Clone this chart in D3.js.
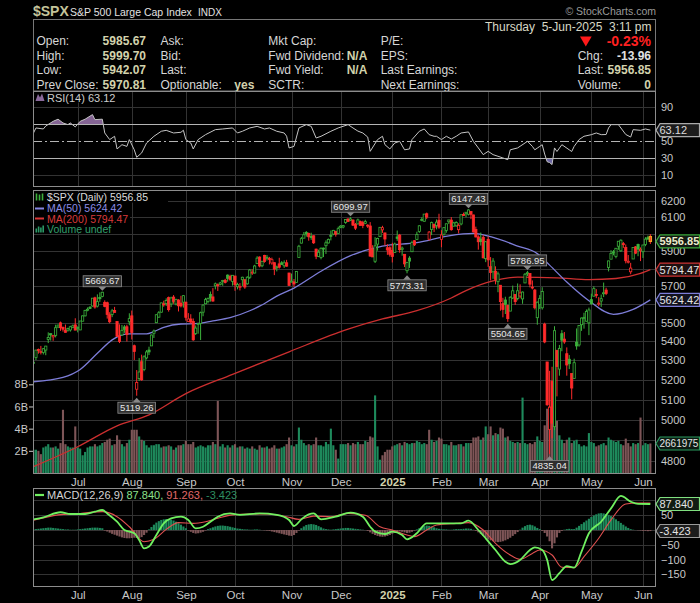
<!DOCTYPE html>
<html>
<head>
<meta charset="utf-8">
<script src="https://cdn.jsdelivr.net/npm/d3@7/dist/d3.min.js"></script>
<style>
html,body{margin:0;padding:0;background:#000;overflow:hidden;}
svg{display:block;}
svg text{font-family:"Liberation Sans",Arial,Helvetica,sans-serif;}
</style>
</head>
<body>
<svg id="chart" width="700" height="603"></svg>
<script>
// ================= DATA =================
// trading days (month, day numbers)
const monthDays = [
 ["2024-06","4 5 6 7 10 11 12 13 14 17 18 20 21 24 25 26 27 28"],
 ["2024-07","1 2 3 5 8 9 10 11 12 15 16 17 18 19 22 23 24 25 26 29 30 31"],
 ["2024-08","1 2 5 6 7 8 9 12 13 14 15 16 19 20 21 22 23 26 27 28 29 30"],
 ["2024-09","3 4 5 6 9 10 11 12 13 16 17 18 19 20 23 24 25 26 27 30"],
 ["2024-10","1 2 3 4 7 8 9 10 11 14 15 16 17 18 21 22 23 24 25 28 29 30 31"],
 ["2024-11","1 4 5 6 7 8 11 12 13 14 15 18 19 20 21 22 25 26 27 29"],
 ["2024-12","2 3 4 5 6 9 10 11 12 13 16 17 18 19 20 23 24 26 27 30 31"],
 ["2025-01","2 3 6 7 8 10 13 14 15 16 17 21 22 23 24 27 28 29 30 31"],
 ["2025-02","3 4 5 6 7 10 11 12 13 14 18 19 20 21 24 25 26 27 28"],
 ["2025-03","3 4 5 6 7 10 11 12 13 14 17 18 19 20 21 24 25 26 27 28 31"],
 ["2025-04","1 2 3 4 7 8 9 10 11 14 15 16 17 21 22 23 24 25 28 29 30"],
 ["2025-05","1 2 5 6 7 8 9 12 13 14 15 16 19 20 21 22 23 27 28 29 30"],
 ["2025-06","2 3 4 5"]
];
const open = [
 5284,5315,5357,5343,5341,5354,5410,5441,5424,5432,5477,5499,5475,5460,5460,5461,5473,5488,
 5471,5461,5508,5537,5572,5584,5591,5636,5590,5638,5644,5611,5609,5543,5545,5566,5506,5429,5434,5477,5478,5505,
 5537,5377,5152,5206,5293,5253,5313,5354,5376,5443,5500,5530,5557,5603,5604,5637,5602,5640,5602,5624,5607,5612,
 5612,5506,5520,5507,5442,5490,5496,5557,5603,5616,5655,5641,5703,5709,5711,5728,5734,5763,5755,5727,
 5758,5698,5698,5737,5737,5714,5751,5778,5775,5829,5866,5816,5876,5860,5858,5832,5834,5810,5827,5833,5816,5833,5775,
 5723,5725,5722,5864,5947,5976,6009,6003,5986,5990,5912,5870,5864,5918,5932,5948,5993,6000,6015,6003,
 6040,6042,6069,6090,6082,6083,6058,6060,6074,6068,6064,6053,6048,5912,5842,5941,5985,6025,6007,5920,5920,
 5904,5892,5983,5994,5911,5882,5788,5860,5897,5961,5969,6015,6081,6076,6121,5970,6027,6058,6050,6082,
 5969,5999,6021,6073,6083,6047,6049,6026,6060,6116,6121,6118,6134,6114,6027,5983,5971,5981,5857,
 5969,5811,5782,5785,5726,5706,5604,5624,5594,5563,5635,5654,5632,5646,5630,5719,5775,5772,5696,5679,5527,
 5598,5581,5492,5292,4953,5193,4966,5353,5255,5441,5412,5335,5306,5232,5207,5395,5381,5489,5529,5508,5499,
 5626,5645,5655,5605,5618,5663,5679,5807,5854,5896,5869,5929,5902,5944,5921,5842,5782,5855,5925,5939,5903,
 5897,5939,5979,5985.67
];
const high = [
 5300,5355,5362,5376,5365,5376,5448,5442,5433,5489,5490,5506,5479,5490,5473,5483,5490,5524,
 5480,5510,5539,5570,5583,5590,5635,5642,5655,5666,5669.67,5622,5615,5557,5575,5586,5509,5491,5488,5487,5489,5551,
 5566,5383,5250,5312,5330,5327,5354,5372,5436,5463,5545,5563,5609,5620,5633,5643,5642,5651,5631,5628,5647,5651,
 5614,5552,5546,5523,5485,5497,5560,5600,5636,5637,5671,5690,5721,5716,5725,5736,5742,5767,5765,5763,
 5758,5720,5718,5754,5739,5757,5797,5796,5822,5871,5870,5843,5879,5878,5867,5863,5835,5817,5862,5843,5847,5850,5776,
 5772,5741,5784,5937,5983,6012,6018,6009,6008,5993,5915,5909,5922,5921,5963,5974,6021,6025,6020,6044,
 6053,6053,6089,6092,6099.97,6088,6066,6092,6080,6079,6085,6058,6071,5935,5982,5979,6040,6049,6007,5941,5929,
 5949,5950,6021,6001,5927,5882,5837,5871,5961,5965,6014,6052,6100,6119,6128,6018,6074,6062,6087,6121,
 6023,6042,6062,6084,6101,6073,6076,6064,6117,6128,6130,6147.43,6135,6115,6044,5993,6009,5994,5959,
 5987,5866,5860,5813,5783,5706,5636,5642,5598,5645,5704,5655,5716,5711,5671,5775,5786.95,5772,5733,5685,5615,
 5651,5695,5500,5292,5246,5267,5481,5353,5381,5460,5450,5368,5328,5232,5309,5469,5485,5528,5554,5572,5582,
 5659,5700,5684,5640,5654,5721,5692,5845,5906,5907,5918,5958,5969,5954,5939,5878,5833,5922,5930,5944,5922,
 5937,5982,5991,5999.70
];
const low = [
 5265,5302,5335,5331,5331,5327,5391,5404,5403,5421,5471,5456,5452,5447,5452,5452,5471,5460,
 5448,5460,5508,5534,5562,5574,5587,5576,5583,5614,5639,5584,5522,5497,5530,5554,5425,5391,5431,5445,5399,5486,
 5410,5302,5119.26,5194,5195,5244,5305,5328,5376,5418,5498,5527,5555,5587,5591,5560,5585,5603,5594,5561,5583,5582,
 5511,5503,5494,5403,5434,5441,5407,5535,5601,5605,5615,5615,5683,5674,5705,5703,5716,5726,5729,5704,
 5675,5683,5677,5702,5686,5709,5741,5764,5772,5828,5807,5808,5834,5846,5824,5822,5763,5784,5800,5822,5804,5811,5703,
 5723,5697,5722,5864,5945,5976,5985,5961,5966,5942,5854,5866,5853,5866,5884,5945,5963,5993,5985,6003,
 6035,6034,6061,6073,6077,6048,6024,6058,6051,6035,6059,6036,5867,5866,5832,5903,5983,6007,5933,5879,5869,
 5835,5892,5960,5891,5874,5809,5773.31,5804,5897,5930,5965,6007,6076,6074,6089,5962,5994,6012,6028,6031,
 5923,5990,6008,6060,6020,6045,6043,6004,6052,6107,6100,6111,6089,6009,5981,5909,5933,5858,5837,
 5810,5733,5742,5711,5667,5565,5529,5547,5504.65,5563,5629,5597,5622,5633,5603,5718,5758,5694,5683,5572,5489,
 5574,5571,5390,5069,4835.04,4910,4949,5116,5221,5348,5387,5221,5255,5101,5207,5356,5372,5456,5468,5506,5433,
 5597,5644,5634,5590,5586,5640,5651,5784,5854,5876,5859,5908,5896,5919,5830,5829,5768,5855,5883,5871,5843,
 5861,5929,5967,5942.07
];
const close = [
 5291,5354,5353,5347,5361,5375,5421,5434,5432,5473,5487,5473,5465,5448,5469,5478,5483,5460,
 5475,5509,5537,5567,5573,5577,5634,5585,5615,5631,5667,5588,5545,5505,5564,5556,5427,5399,5459,5464,5436,5522,
 5447,5347,5186,5240,5200,5319,5344.2,5344.4,5434,5455,5543,5554,5608,5597,5621,5571,5635,5617,5626,5592,5591,5648,
 5529,5520,5503,5408,5471,5496,5554,5596,5626,5633,5635,5618,5714,5703,5719,5733,5722,5745,5738,5762,
 5709,5710,5700,5751,5696,5751,5792,5780,5815,5860,5815,5842,5841,5865,5854,5851,5797,5810,5808,5824,5833,5814,5705,
 5729,5713,5783,5929,5973,5996,6001,5984,5985,5949,5871,5894,5917.0,5917.1,5949,5969,5987,6022,5999,6032,
 6047,6050,6086,6075,6090,6053,6035,6084,6051.3,6051.1,6074,6051,5872,5867,5931,5974,6040,6038,5971,5907,5882,
 5869,5942,5975,5909,5918,5827,5836,5843,5950,5937,5997,6049,6086,6119,6101,6012,6068,6039,6071,6041,
 5995,6038,6061,6084,6026,6066,6069,6052,6115.1,6114.6,6130,6144,6118,6013,5983,5955,5956,5862,5955,
 5850,5778,5843,5739,5770,5615,5572,5599,5522,5639,5675,5615,5675,5663,5668,5768,5777,5712,5693,5581,5612,
 5633,5671,5397,5074,5062,4983,5457,5268,5363,5406,5397,5276,5283,5158,5288,5376,5485,5525,5529,5561,5569,
 5604,5687,5650,5607,5631,5664,5660,5844,5887,5893,5917,5958,5964,5940,5845,5842,5803,5922,5889,5912,5911,
 5936,5970.37,5970.81,5956.85
];
// volume, billions
const volumeB = [
 2.1,2.1,2.0,1.7,2.3,2.4,2.6,2.3,2.3,2.4,2.2,2.7,5.7,2.6,2.4,2.3,2.3,4.2,
 2.3,2.2,1.6,1.9,2.3,2.4,2.4,2.6,2.4,2.5,2.7,2.8,3.0,3.1,2.5,2.6,3.4,3.0,2.6,2.4,2.7,3.0,
 3.9,3.9,3.9,3.3,3.0,2.9,2.5,2.3,2.5,2.5,2.6,2.6,2.3,2.4,2.4,2.5,2.4,2.1,2.3,2.5,2.5,2.6,
 2.9,2.6,2.6,2.8,2.3,2.4,2.5,2.4,2.3,2.5,2.5,2.8,2.6,6.5,2.4,2.6,2.3,2.5,2.3,2.5,
 2.6,2.3,2.4,2.4,2.2,2.3,2.2,2.4,2.2,2.1,2.5,2.3,2.3,2.4,2.2,2.3,2.5,2.2,2.2,2.3,2.4,2.6,3.2,
 2.5,2.4,2.6,4.1,3.0,2.7,2.5,2.6,2.5,2.6,3.2,2.5,2.5,2.4,2.8,2.6,4.0,2.5,2.1,1.3,
 2.6,2.6,2.6,2.7,2.5,2.7,2.6,2.8,2.6,2.6,2.9,2.8,3.3,3.2,7.0,2.4,1.2,1.6,1.9,2.1,2.1,
 2.4,2.5,2.6,2.7,2.5,2.8,2.7,2.6,2.7,2.7,2.9,2.8,2.6,2.7,2.6,3.9,3.0,2.8,2.9,3.2,
 3.1,2.6,2.6,2.5,2.8,2.5,2.5,2.6,2.6,2.4,2.7,2.7,2.7,3.2,3.2,3.3,3.0,3.2,4.2,
 3.5,4.2,3.4,3.6,3.5,4.1,4.0,3.2,3.3,2.9,2.8,2.7,2.8,2.7,6.8,2.7,2.6,2.7,2.6,2.8,3.3,
 2.9,2.8,4.3,5.8,6.0,5.3,5.6,4.7,3.4,3.0,2.7,3.0,3.2,2.7,2.9,3.0,2.6,2.4,2.5,2.4,3.6,
 2.8,2.7,2.4,2.5,2.6,2.7,2.5,3.2,3.0,2.9,2.8,2.9,2.6,2.5,3.1,2.7,2.4,2.7,2.6,2.7,5.0,
 2.5,2.7,2.6,2.662
];
const ma50Series = [
 ["2024-06-04",5190],["2024-06-21",5212],["2024-07-02",5253],["2024-07-12",5337],["2024-07-22",5408],
 ["2024-07-26",5435],["2024-07-31",5440],["2024-08-09",5440],["2024-08-14",5452],["2024-08-20",5475],
 ["2024-08-29",5493],["2024-09-09",5495],["2024-09-18",5510],["2024-09-27",5527],["2024-10-09",5565],
 ["2024-10-15",5590],["2024-10-24",5645],["2024-11-04",5690],["2024-11-19",5785],["2024-12-06",5874],
 ["2024-12-26",5930],["2025-01-17",5950],["2025-02-06",5990],["2025-02-21",6004],["2025-03-05",5980],
 ["2025-03-19",5930],["2025-03-31",5886],["2025-04-07",5820],["2025-04-16",5724],["2025-04-30",5620],
 ["2025-05-14",5545],["2025-05-27",5572],["2025-06-05",5624.42]
];
const ma200Series = [
 ["2024-06-04",4775],["2024-07-01",4869],["2024-07-24",4970],["2024-08-12",5024],["2024-09-03",5130],
 ["2024-09-30",5228],["2024-10-31",5345],["2024-12-05",5465],["2024-12-26",5520],["2025-01-17",5565],
 ["2025-02-07",5635],["2025-02-18",5676],["2025-03-05",5730],["2025-03-19",5752],["2025-04-10",5748],
 ["2025-04-30",5738],["2025-05-15",5744],["2025-05-30",5773],["2025-06-05",5794.47]
];
const rsiSeries = [
 ["2024-06-04",59.8],["2024-06-05",65.7],["2024-06-10",64.5],["2024-06-11",68],["2024-06-14",73.5],["2024-06-18",76],
 ["2024-06-21",71.6],["2024-06-25",69.6],["2024-06-26",71.6],["2024-06-28",66.9],["2024-07-02",73.5],["2024-07-05",76],
 ["2024-07-10",81.4],["2024-07-11",75.5],["2024-07-16",76],["2024-07-17",59.8],["2024-07-19",52],["2024-07-23",55.9],
 ["2024-07-24",41],["2024-07-26",46],["2024-07-30",44],["2024-07-31",52],["2024-08-02",40],["2024-08-05",31.2],
 ["2024-08-07",36.3],["2024-08-09",48],["2024-08-14",55.9],["2024-08-19",61.8],["2024-08-21",62.9],["2024-08-26",59.8],
 ["2024-08-29",60.6],["2024-08-30",63],["2024-09-03",52],["2024-09-05",48],["2024-09-06",41],["2024-09-10",52],
 ["2024-09-13",57.8],["2024-09-19",63.7],["2024-09-24",64.5],["2024-09-30",65.7],["2024-10-02",59.8],["2024-10-04",61.8],
 ["2024-10-09",65.7],["2024-10-14",67.6],["2024-10-17",64.5],["2024-10-21",65.7],["2024-10-24",61.8],["2024-10-29",59.8],
 ["2024-10-30",56],["2024-10-31",42.2],["2024-11-04",44],["2024-11-06",65.7],["2024-11-11",69.6],["2024-11-13",67.6],
 ["2024-11-15",53.9],["2024-11-19",55.9],["2024-11-25",61.8],["2024-11-29",65.7],["2024-12-05",69.6],["2024-12-09",65.7],
 ["2024-12-11",62],["2024-12-13",59.8],["2024-12-17",55],["2024-12-18",38.2],["2024-12-23",52],["2024-12-26",55.9],
 ["2024-12-27",46],["2024-12-31",41],["2025-01-03",48],["2025-01-07",50],["2025-01-10",40],["2025-01-14",41],
 ["2025-01-15",52],["2025-01-21",61.8],["2025-01-23",64.5],["2025-01-27",57.8],["2025-01-29",55.9],["2025-01-30",55.9],
 ["2025-02-03",52],["2025-02-05",55.9],["2025-02-07",52.7],["2025-02-11",55.9],["2025-02-13",59.8],["2025-02-18",60.6],
 ["2025-02-19",61],["2025-02-21",50],["2025-02-25",42.2],["2025-02-27",34.3],["2025-03-03",38.2],["2025-03-05",34.3],
 ["2025-03-07",32.4],["2025-03-11",30.4],["2025-03-13",28.4],["2025-03-14",40],["2025-03-19",42.2],["2025-03-24",48],
 ["2025-03-25",50],["2025-03-27",44],["2025-03-28",40],["2025-03-31",42],["2025-04-01",44],["2025-04-02",46],
 ["2025-04-03",35],["2025-04-04",26],["2025-04-07",25],["2025-04-08",22.6],["2025-04-09",42.2],["2025-04-10",38],
 ["2025-04-11",42],["2025-04-14",46],["2025-04-17",40],["2025-04-21",38],["2025-04-22",44],["2025-04-24",52],
 ["2025-04-28",55.9],["2025-05-01",57.8],["2025-05-05",59.8],["2025-05-07",57.8],["2025-05-09",58],["2025-05-12",65.7],
 ["2025-05-13",69.6],["2025-05-16",69.6],["2025-05-21",58],["2025-05-23",55],["2025-05-27",63.7],["2025-05-30",62.9],
 ["2025-06-03",64.5],["2025-06-05",63.12]
];
const macdSeries = [
 ["2024-06-04",36],["2024-06-10",43],["2024-06-20",60],["2024-06-26",54],["2024-07-05",54],["2024-07-11",62],
 ["2024-07-16",67.6],["2024-07-18",56],["2024-07-24",28],["2024-07-29",0],["2024-08-02",-11],["2024-08-06",-34],
 ["2024-08-08",-62],["2024-08-12",-56],["2024-08-15",-17],["2024-08-20",22.5],["2024-08-23",39.5],["2024-08-29",45],
 ["2024-09-04",34],["2024-09-09",5.6],["2024-09-12",11],["2024-09-17",28],["2024-09-20",45],["2024-09-27",56],
 ["2024-10-03",51],["2024-10-15",56],["2024-10-24",51],["2024-10-31",34],["2024-11-04",13.5],["2024-11-07",36],
 ["2024-11-12",53],["2024-11-14",56],["2024-11-19",36],["2024-11-27",45],["2024-12-06",58.6],["2024-12-13",45],
 ["2024-12-18",11],["2024-12-20",-5.6],["2024-12-27",-13.5],["2025-01-02",-5.6],["2025-01-08",-17],["2025-01-13",-31.5],
 ["2025-01-17",-11],["2025-01-24",22.5],["2025-01-30",22.5],["2025-02-05",22.5],["2025-02-13",22.5],["2025-02-19",31.5],
 ["2025-02-25",0],["2025-02-28",-28],["2025-03-06",-67.6],["2025-03-12",-107],["2025-03-14",-115],["2025-03-20",-101],
 ["2025-03-26",-67.6],["2025-03-28",-58.6],["2025-04-02",-67.6],["2025-04-04",-101],["2025-04-08",-169],["2025-04-11",-146],
 ["2025-04-16",-122],["2025-04-22",-127],["2025-04-25",-73],["2025-04-30",-11],["2025-05-07",28],["2025-05-13",73],
 ["2025-05-19",115],["2025-05-23",95.6],["2025-05-29",88],["2025-06-05",87.84]
];
const signalSeries = [
 ["2024-06-04",33],["2024-06-18",51],["2024-07-02",56],["2024-07-16",62],["2024-07-24",45],["2024-07-31",11],
 ["2024-08-08",-39.5],["2024-08-14",-31.5],["2024-08-21",2],["2024-08-28",25],["2024-09-06",22.5],["2024-09-13",28],
 ["2024-09-20",39.5],["2024-09-30",51],["2024-10-09",54],["2024-10-18",54],["2024-10-30",45],["2024-11-06",36],
 ["2024-11-14",47],["2024-11-25",45],["2024-12-05",56],["2024-12-16",50],["2024-12-24",11],["2025-01-02",0],
 ["2025-01-13",-17],["2025-01-16",-22.5],["2025-01-24",0],["2025-01-30",17],["2025-02-11",22.5],["2025-02-19",25],
 ["2025-02-27",0],["2025-03-06",-45],["2025-03-14",-84.5],["2025-03-20",-99],["2025-03-27",-79],["2025-04-01",-67.6],
 ["2025-04-08",-84.5],["2025-04-14",-126],["2025-04-22",-127],["2025-04-28",-90],["2025-05-06",-28],["2025-05-13",34],
 ["2025-05-21",88],["2025-05-29",91],["2025-06-05",91.263]
];
const macdHist = [
 2,3,4,5,6,7,8,8,7,6,5,4,3,2,2,1,1,1,
 2,3,4,5,6,7,8,8,8,7,6,
 -2,-5,-9,-13,-16,-19,-22,-25,-27,-28,-28,-27,-26,-27,-28,-24,-17,-9,
 2,10,18,25,30,34,36,37,37,35,32,28,23,18,12,6,
 -2,-6,-10,-12,-11,-9,-6,-2,
 3,6,9,12,14,15,15,14,13,11,9,7,5,4,3,
 2,2,1,1,2,2,1,0,-1,-2,
 -3,-5,-7,-9,-11,-13,-15,-17,-19,-20,-17,-10,
 -2,6,12,17,19,20,19,17,13,9,5,
 3,2,1,2,3,4,5,6,7,7,6,5,4,3,2,1,0,
 -3,-8,-13,-17,-20,-22,-23,-22,-20,-17,-13,-9,
 -6,-5,-6,-8,-10,-9,-6,-2,2,
 6,10,13,15,14,12,9,6,4,3,
 2,2,1,1,2,3,3,3,4,5,5,4,
 1,-3,-8,-14,-20,-26,-31,-35,-38,-40,-41,-40,-38,-35,-31,-26,-20,-14,
 -7,1,8,13,17,18,16,12,7,3,
 -3,-10,-22,-38,-62,-45,-25,-10,
 -3,1,3,4,3,3,
 8,14,20,26,32,38,44,49,53,56,57,56,54,51,47,42,36,30,24,18,12,7,3,1,0,-1,-2,
 -3,-3,-4,-3.423
];
const monthKeys = ["2024-07","2024-08","2024-09","2024-10","2024-11","2024-12","2025-01","2025-02","2025-03","2025-04","2025-05","2025-06"];
const monthLabels = ["Jul","Aug","Sep","Oct","Nov","Dec","2025","Feb","Mar","Apr","May","Jun"];
const priceTicks = [4800,4900,5000,5100,5200,5300,5400,5500,5600,5700,5800,5900,6000,6100,6200];
const volumeTicks = [2,4,6,8];
const rsiTicks = [10,30,50,70,90];
const macdTicks = [-150,-100,-50,50];
const annDates = ["2024-07-16","2024-08-05","2024-12-06","2025-01-13","2025-02-19","2025-03-13","2025-03-25","2025-04-07"];
const annValues = [5669.67,5119.26,6099.97,5773.31,6147.43,5504.65,5786.95,4835.04];
const annKinds = ["high","low","high","low","high","low","high","low"];
const hdrLabels1 = ["Open:","High:","Low:","Prev Close:"];
const hdrValues1 = ["5985.67","5999.70","5942.07","5970.81"];
const hdrLabels2 = ["Ask:","Bid:","Last:","Optionable:"];
const hdrValues2 = ["","","","yes"];
const hdrLabels3 = ["Mkt Cap:","Fwd Dividend:","Fwd Yield:","SCTR:"];
const hdrValues3 = ["","N/A","N/A",""];
const hdrLabels4 = ["P/E:","EPS:","Last Earnings:","Next Earnings:"];
const hdrLabels5 = ["","Chg:","Last:","Volume:"];
const hdrValues5 = ["-0.23%","-13.96","5956.85","0"];
const lastPrice = 5956.85, lastMa50 = 5624.42, lastMa200 = 5794.47, lastVolumeB = 2.661975, lastVolumeLabel = "2661975";
const lastRsi = 63.12, lastMacd = 87.840, lastSignal = 91.263, lastHist = -3.423;

// ================= RENDER =================
const svg = d3.select("#chart");
const L = 33, R = 656;
const GRID = "#333333", BORDER = "#8c8c8c", AXIS = "#c8c8c8";
const GREEN = "#3cb23c", RED = "#ff2b2b", VUP = "#1e8a5c", VDN = "#7e5557";
const dates = monthDays.flatMap(([m,s]) => s.split(" ").map(d => m + "-" + d.padStart(2,"0")));
const idx = new Map(dates.map((d,i)=>[d,i]));
const n = Math.min(dates.length, open.length, high.length, low.length, close.length, volumeB.length, macdHist.length);

const x = d3.scaleLinear().domain([-0.2, 253.3]).range([L, R]);
const yP = d3.scaleLog().domain([4800, 6200]).range([461.3, 200.7]);
const yV = d3.scaleLinear().domain([0, 8]).range([473, 384.3]);
const yR = d3.scaleLinear().domain([0, 100]).range([183.8, 98.8]);
const yM = d3.scaleLinear().domain([-150, 50]).range([574.4, 515.2]);
const P = {rsi:[91,187], main:[190,474], macd:[488,587]};

const defs = svg.append("defs");
function clip(id, y0, y1){ defs.append("clipPath").attr("id",id).append("rect").attr("x",L).attr("y",y0).attr("width",R-L).attr("height",y1-y0); }
clip("cRsi", P.rsi[0], P.rsi[1]); clip("cMain", P.main[0], P.main[1]); clip("cMacd", P.macd[0], P.macd[1]);
clip("cRsiHi", P.rsi[0], yR(70)); clip("cRsiLo", yR(30), P.rsi[1]);

svg.append("rect").attr("width",700).attr("height",603).attr("fill","#000");

const monthIdx = monthKeys.map(k => dates.findIndex(d => d.startsWith(k)));
const snap = v => Math.round(v) + 0.5;

// ---- grids ----
function vgrid(y0, y1){
  svg.append("g").selectAll("line").data(monthIdx).join("line")
    .attr("x1", d=>snap(x(d))).attr("x2", d=>snap(x(d))).attr("y1", y0).attr("y2", y1)
    .attr("stroke", GRID);
}
function hgrid(vals, scale, color, dash){
  svg.append("g").selectAll("line").data(vals).join("line")
    .attr("x1", L).attr("x2", R).attr("y1", d=>snap(scale(d))).attr("y2", d=>snap(scale(d)))
    .attr("stroke", color).attr("stroke-dasharray", dash || null);
}
vgrid(P.rsi[0], P.rsi[1]); vgrid(P.main[0], P.main[1]); vgrid(P.macd[0], P.macd[1]);
hgrid([10,90], yR, GRID);
hgrid(priceTicks, yP, GRID);
hgrid([100,50,0,-50,-100,-150], yM, GRID);

// ---- header ----
function txt(g, xx, yy, s, o = {}){
  return g.append("text").attr("x", xx).attr("y", yy).text(s)
    .attr("font-size", o.size || 11).attr("font-weight", o.bold ? "bold" : null)
    .attr("fill", o.fill || "#d4d4d4").attr("text-anchor", o.anchor || "start");
}
const H = svg.append("g");
txt(H, 33, 16, "$SPX", {size:14, bold:true, fill:"#c4c49a"});
txt(H, 70, 15.5, "S&P 500 Large Cap Index", {size:10.5, fill:"#e2e2e2"});
txt(H, 198, 15.5, "INDX", {size:10, fill:"#e2e2e2"});
txt(H, 656, 15, "\u00a9 StockCharts.com", {size:10.5, fill:"#9a9a9a", anchor:"end"});
H.append("rect").attr("x", L+0.5).attr("y", 19.5).attr("width", R-L-1).attr("height", 71.5).attr("fill","none").attr("stroke","#777");
txt(H, 651.5, 30.5, "Thursday\u00a0\u00a05-Jun-2025\u00a0\u00a03:11 pm", {size:12, fill:"#d8d8c6", anchor:"end"});
const rowY = [45, 59.5, 74, 88.5];
const VAL = "#d2d2ac", LAB = "#d6d6d6";
rowY.forEach((yy, k) => {
  txt(H, 36.5, yy, hdrLabels1[k], {size:12, fill:LAB});
  txt(H, 146, yy, hdrValues1[k], {size:12, bold:true, fill:VAL, anchor:"end"});
  txt(H, 160.5, yy, hdrLabels2[k], {size:12, fill:LAB});
  if (hdrValues2[k]) txt(H, 234.3, yy, hdrValues2[k], {size:12, bold:true, fill:VAL});
  txt(H, 268.3, yy, hdrLabels3[k], {size:12, fill:LAB});
  if (hdrValues3[k]) txt(H, 346.7, yy, hdrValues3[k], {size:12, bold:true, fill:VAL});
  txt(H, 380.7, yy, hdrLabels4[k], {size:12, fill:LAB});
  if (hdrLabels5[k]) txt(H, 577.7, yy, hdrLabels5[k], {size:12, fill:LAB});
  if (k === 0) txt(H, 651, yy+0.5, hdrValues5[k], {size:14, bold:true, fill:"#ff2020", anchor:"end"});
  else txt(H, 651, yy, hdrValues5[k], {size:12, bold:true, fill: k===1 ? "#e0e0e0" : VAL, anchor:"end"});
});
H.append("path").attr("d","M580,36.5 L591.7,36.5 L585.8,46.5 Z").attr("fill","#ff1a1a");

// ---- volume bars ----
const bars = d3.range(n).map(i => ({i, o:open[i], h:high[i], l:low[i], c:close[i], v:volumeB[i],
  up: i === 0 ? close[i] >= open[i] : close[i] >= close[i-1]}));
const gMain = svg.append("g").attr("clip-path","url(#cMain)");
gMain.append("g").selectAll("rect").data(bars).join("rect")
  .attr("x", d => x(d.i) - 1.05).attr("width", 2.1)
  .attr("y", d => yV(d.v)).attr("height", d => yV(0) - yV(d.v))
  .attr("fill", d => d.up ? VUP : VDN);

// ---- moving averages ----
const lineOf = (scale) => d3.line().x(d => x(idx.get(d[0]))).y(d => scale(d[1])).curve(d3.curveMonotoneX);
gMain.append("path").datum(ma200Series).attr("d", lineOf(yP)).attr("fill","none").attr("stroke","#cc2f2f").attr("stroke-width",1.3);
gMain.append("path").datum(ma50Series).attr("d", lineOf(yP)).attr("fill","none").attr("stroke","#7d7dd8").attr("stroke-width",1.3);

// ---- candles ----
const gC = gMain.append("g");
gC.selectAll("line").data(bars).join("line")
  .attr("x1", d => x(d.i)).attr("x2", d => x(d.i))
  .attr("y1", d => yP(d.h)).attr("y2", d => yP(d.l))
  .attr("stroke", d => d.up ? GREEN : RED).attr("stroke-width", 1);
gC.selectAll("rect").data(bars).join("rect")
  .attr("x", d => x(d.i) - 1.1).attr("width", 2.2)
  .attr("y", d => yP(Math.max(d.o, d.c)))
  .attr("height", d => Math.max(1, Math.abs(yP(d.o) - yP(d.c))))
  .attr("fill", d => d.c < d.o ? (d.up ? GREEN : RED) : "#000")
  .attr("stroke", d => d.i === n-1 ? "#f0a020" : (d.up ? GREEN : RED))
  .attr("stroke-width", d => d.i === n-1 ? 1.2 : 0.8);

// ---- annotations ----
annDates.forEach((dt, k) => {
  const cx = x(idx.get(dt)), yy = yP(annValues[k]);
  const g = svg.append("g");
  const t = g.append("text").text(d3.format(".2f")(annValues[k])).attr("font-size", 9.5)
    .attr("fill","#e8e8e8").attr("text-anchor","middle").attr("x", cx);
  const w = t.node().getComputedTextLength() + 4, h = 11;
  let top, tri;
  if (annKinds[k] === "high") { top = yy - 5 - h; tri = `M${cx-4},${yy-5} L${cx+4},${yy-5} L${cx},${yy-1} Z`; }
  else { top = yy + 6.5; tri = `M${cx-4},${top} L${cx+4},${top} L${cx},${yy+2} Z`; }
  g.insert("path","text").attr("d", tri).attr("fill","#888");
  g.insert("rect","text").attr("x", cx - w/2).attr("y", top).attr("width", w).attr("height", h)
    .attr("fill","#2e2e2e").attr("stroke","#8c8c8c").attr("stroke-width",0.8);
  t.attr("y", top + h - 2.3);
});

// ---- RSI panel ----
const gR = svg.append("g").attr("clip-path","url(#cRsi)");
const rsiArea = base => d3.area().x(d => x(idx.get(d[0]))).y0(yR(base)).y1(d => yR(d[1]));
gR.append("path").datum(rsiSeries).attr("d", rsiArea(70)).attr("fill","#846494").attr("clip-path","url(#cRsiHi)");
gR.append("path").datum(rsiSeries).attr("d", rsiArea(30)).attr("fill","#6a64a0").attr("clip-path","url(#cRsiLo)");
hgrid([70,30], yR, "#b4b4b4");
hgrid([50], yR, "#b4b4b4", "9,3,2,3");
gR.append("path").datum(rsiSeries).attr("d", d3.line().x(d => x(idx.get(d[0]))).y(d => yR(d[1])))
  .attr("fill","none").attr("stroke","#c4c4c4").attr("stroke-width",1);

// ---- MACD panel ----
const gM = svg.append("g").attr("clip-path","url(#cMacd)");
gM.append("g").selectAll("rect").data(d3.range(n)).join("rect")
  .attr("x", i => x(i) - 1.05).attr("width", 2.1)
  .attr("y", i => Math.min(yM(0), yM(macdHist[i])))
  .attr("height", i => Math.abs(yM(macdHist[i]) - yM(0)))
  .attr("fill", i => macdHist[i] >= 0 ? VUP : VDN);
gM.append("path").datum(signalSeries).attr("d", d3.line().x(d => x(idx.get(d[0]))).y(d => yM(d[1])).curve(d3.curveMonotoneX))
  .attr("fill","none").attr("stroke","#e05050").attr("stroke-width",1.1);
gM.append("path").datum(macdSeries).attr("d", d3.line().x(d => x(idx.get(d[0]))).y(d => yM(d[1])).curve(d3.curveMonotoneX))
  .attr("fill","none").attr("stroke","#70f060").attr("stroke-width",1.8);

// ---- panel borders ----
[P.rsi, P.main, P.macd].forEach(p => {
  svg.append("rect").attr("x", L+0.5).attr("y", p[0]+0.5).attr("width", R-L-1).attr("height", p[1]-p[0]-1)
    .attr("fill","none").attr("stroke", BORDER);
});

// ---- value tags (positions from scales) ----
const tags = [
  {y: yR(lastRsi), label: "63.12", border:"#aaaaaa", fill:"#1c1c1c", color:"#dddddd", bold:false, size:11},
  {y: yP(lastPrice), label: "5956.85", border:"#3aa83a", fill:"#121812", color:"#ececcc", bold:true, size:11},
  {y: yP(lastMa200), label: "5794.47", border:"#cc3333", fill:"#1e1010", color:"#e4e4e4", bold:false, size:11},
  {y: yP(lastMa50), label: "5624.42", border:"#7d7dd8", fill:"#12121e", color:"#e4e4e4", bold:false, size:11},
  {y: yV(lastVolumeB), label: lastVolumeLabel, border:"#2a9a5e", fill:"#0c1a12", color:"#e4e4e4", bold:false, size:10},
  {y: yM(lastMacd), label: "87.840", border:"#80e080", fill:"#121c12", color:"#e4e4e4", bold:false, size:11},
  {y: yM(lastHist), label: "-3.423", border:"#9a9a9a", fill:"#1c1c1c", color:"#e4e4e4", bold:false, size:11}
];
const freeOf = scale => v => tags.every(t => Math.abs(scale(v) - t.y) > 8);

// ---- axes ----
function styleAxis(g, size){
  g.attr("font-family", '"Liberation Sans",Arial,sans-serif').attr("font-size", size || 11).attr("color", AXIS);
  g.select(".domain").remove();
}
svg.append("g").attr("transform", `translate(${R+1},0)`)
  .call(d3.axisRight(yP).tickValues(priceTicks.filter(freeOf(yP))).tickFormat(d3.format("d")).tickSize(0).tickPadding(4))
  .call(g => styleAxis(g, 11));
svg.append("g").attr("transform", `translate(${L},0)`)
  .call(d3.axisLeft(yV).tickValues(volumeTicks).tickFormat(d => d + "B").tickSize(4).tickPadding(1))
  .call(g => styleAxis(g, 11));
svg.append("g").attr("transform", `translate(${R+1},0)`)
  .call(d3.axisRight(yR).tickValues(rsiTicks.filter(freeOf(yR))).tickSize(0).tickPadding(4))
  .call(g => styleAxis(g, 11));
svg.append("g").attr("transform", `translate(${R+1},0)`)
  .call(d3.axisRight(yM).tickValues(macdTicks.filter(freeOf(yM))).tickSize(0).tickPadding(4))
  .call(g => styleAxis(g, 11));
[P.main[1], P.macd[1]].forEach((yy, k) => {
  svg.append("g").attr("transform", `translate(0,${yy})`)
    .call(d3.axisBottom(x).tickValues(monthIdx).tickFormat((d, j) => monthLabels[j]).tickSize(0).tickPadding(k === 0 ? 4 : 3.5))
    .call(g => styleAxis(g, 11.5))
    .call(g => g.selectAll("text").filter(t => monthLabels[monthIdx.indexOf(t)] === "2025")
      .attr("font-weight","bold").attr("fill","#d2d2ac"));
});

// ---- draw tags ----
tags.forEach(t => {
  const g = svg.append("g");
  g.append("path").attr("d", `M${R},${t.y} L${R+4},${t.y-6.5} H699.5 V${t.y+6.5} H${R+4} Z`)
    .attr("fill", t.fill).attr("stroke", t.border).attr("stroke-width", 1.2);
  g.append("text").attr("x", R+3.5).attr("y", t.y+4).text(t.label).attr("font-size", t.size)
    .attr("font-weight", t.bold ? "bold" : null).attr("fill", t.color);
});

// ---- legends ----
function legendBg(yTop, w){ svg.append("rect").attr("x", L+1).attr("y", yTop).attr("width", w).attr("height", 10.5).attr("fill","#000"); }
// RSI
legendBg(92, 90);
svg.append("path").attr("d","M35.5,101 L38,94 L40,97.5 L42,93.5 L44.5,101 Z").attr("fill","#8a6a9c");
txt(svg, 47, 101.5, "RSI(14) 63.12", {size:11, fill:"#cccccc"});
// Main
legendBg(192, 134); legendBg(202.5, 90); legendBg(212.5, 96); legendBg(222.5, 86);
[36.5, 39.5, 42.5].forEach((xx, k) => {
  svg.append("line").attr("x1", xx).attr("x2", xx).attr("y1", 193.5 + (k%2)).attr("y2", 200.5).attr("stroke", GREEN).attr("stroke-width", 1.6);
});
txt(svg, 47, 201.3, "$SPX (Daily) 5956.85", {size:10.5, fill:"#dcdcdc"});
svg.append("line").attr("x1",35).attr("x2",44).attr("y1",208.5).attr("y2",208.5).attr("stroke","#8484e0").attr("stroke-width",2);
txt(svg, 47, 211.9, "MA(50) 5624.42", {size:10.5, fill:"#8c8ce4"});
svg.append("line").attr("x1",35).attr("x2",44).attr("y1",218.5).attr("y2",218.5).attr("stroke","#d83434").attr("stroke-width",2);
txt(svg, 47, 222.5, "MA(200) 5794.47", {size:10.5, fill:"#d83a3a"});
[[35.5,4],[37.8,6],[40.1,5],[42.4,7]].forEach(([xx,hh]) => {
  svg.append("rect").attr("x", xx).attr("y", 232.5 - hh).attr("width", 1.6).attr("height", hh).attr("fill", "#2a9a66");
});
txt(svg, 47, 233, "Volume undef", {size:10.5, fill:"#33a06e"});
// MACD
legendBg(489.5, 190);
svg.append("line").attr("x1",35).attr("x2",44).attr("y1",495).attr("y2",495).attr("stroke","#70f060").attr("stroke-width",2.2);
const mt = svg.append("text").attr("x", 47).attr("y", 499).attr("font-size", 11);
mt.append("tspan").text("MACD(12,26,9) ").attr("fill","#d4d4d4");
mt.append("tspan").text("87.840, ").attr("fill","#8ce08c");
mt.append("tspan").text("91.263, ").attr("fill","#e06a6a");
mt.append("tspan").text("-3.423").attr("fill","#2e8e62");

// sanity check of array lengths (visible only if something is off)
const lens = [dates.length, open.length, high.length, low.length, close.length, volumeB.length, macdHist.length];
if (new Set(lens).size !== 1) txt(svg, 200, 300, "LEN " + lens.join(","), {size:14, fill:"#ff0"});
</script>
</body>
</html>
